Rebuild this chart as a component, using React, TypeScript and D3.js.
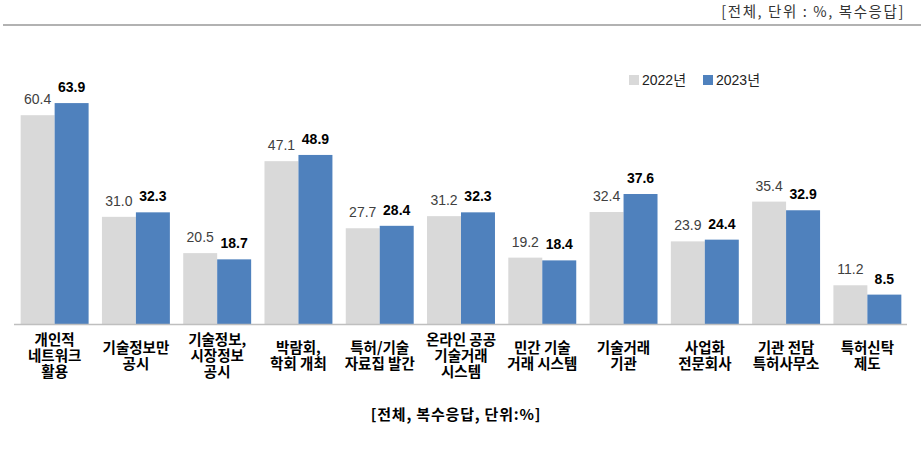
import React from "react";
import * as d3 from "d3";

const categories: string[][] = [
  ["개인적", "네트워크", "활용"],
  ["기술정보만", "공시"],
  ["기술정보,", "시장정보", "공시"],
  ["박람회,", "학회 개최"],
  ["특허/기술", "자료집 발간"],
  ["온라인 공공", "기술거래", "시스템"],
  ["민간 기술", "거래 시스템"],
  ["기술거래", "기관"],
  ["사업화", "전문회사"],
  ["기관 전담", "특허사무소"],
  ["특허신탁", "제도"],
];
const values2022 = [60.4, 31.0, 20.5, 47.1, 27.7, 31.2, 19.2, 32.4, 23.9, 35.4, 11.2];
const values2023 = [63.9, 32.3, 18.7, 48.9, 28.4, 32.3, 18.4, 37.6, 24.4, 32.9, 8.5];
const seriesNames = ["2022년", "2023년"];
const noteText = "[전체, 단위 : %, 복수응답]";
const subtitleText = "[전체, 복수응답, 단위:%]";

const W = 924;
const H = 465;
const FONT = "'Liberation Sans', 'Noto Sans CJK KR', sans-serif";
const KFONT = "'Noto Sans CJK KR', sans-serif";
const colors = ["#d9d9d9", "#4f81bd"];

export default function App() {
  const keys = categories.map((_, i) => String(i));
  const x = d3.scaleBand<string>().domain(keys).range([14, 908]).paddingInner(0.164).paddingOuter(0.082);
  const xs = d3.scaleBand<string>().domain(["0", "1"]).range([0, x.bandwidth()]);
  const y = d3.scaleLinear().domain([0, 70]).range([324, 82]);
  const series = [values2022, values2023];
  const lineH = 16;
  const labelCenter = 356;

  return (
    <svg width={W} height={H} style={{ position: "absolute", left: 0, top: 0, background: "#fff" }}>
      <line x1={3} x2={921} y1={25} y2={25} stroke="#999" strokeWidth={1.5} />
      <text x={905} y={17} textAnchor="end" fontFamily={KFONT} fontSize={14.5} letterSpacing={1.6} fill="#333">
        {noteText}
      </text>
      {/* legend */}
      {seriesNames.map((n, i) => (
        <g key={n} transform={`translate(${629 + i * 74},75)`}>
          <rect width={10} height={10} fill={colors[i]} />
          <text x={13} y={10} fontFamily={FONT} fontSize={14} fill="#222">
            {n}
          </text>
        </g>
      ))}
      {/* bars */}
      {keys.map((k, i) => (
        <g key={k} transform={`translate(${x(k)},0)`}>
          {series.map((s, j) => (
            <g key={j}>
              <rect
                x={xs(String(j))}
                y={y(s[i])}
                width={xs.bandwidth()}
                height={y(0) - y(s[i])}
                fill={colors[j]}
              />
              <text
                x={(xs(String(j)) as number) + xs.bandwidth() / 2}
                y={y(s[i]) - 11}
                textAnchor="middle"
                fontFamily={FONT}
                fontSize={14}
                fontWeight={j === 1 ? "bold" : "normal"}
                fill={j === 1 ? "#000" : "#404040"}
              >
                {s[i].toFixed(1)}
              </text>
            </g>
          ))}
          {categories[i].map((l, li) => (
            <text
              key={li}
              x={x.bandwidth() / 2}
              y={labelCenter + (li - (categories[i].length - 1) / 2) * lineH + 5}
              textAnchor="middle"
              fontFamily={KFONT}
              fontSize={14.5}
              fontWeight="bold"
              fill="#000"
            >
              {l}
            </text>
          ))}
        </g>
      ))}
      <line x1={14} x2={907} y1={y(0) + 0.5} y2={y(0) + 0.5} stroke="#bfbfbf" strokeWidth={1.5} />
      <text x={456} y={420} textAnchor="middle" fontFamily={KFONT} fontSize={15} letterSpacing={0.8} fontWeight="bold" fill="#000">
        {subtitleText}
      </text>
    </svg>
  );
}
